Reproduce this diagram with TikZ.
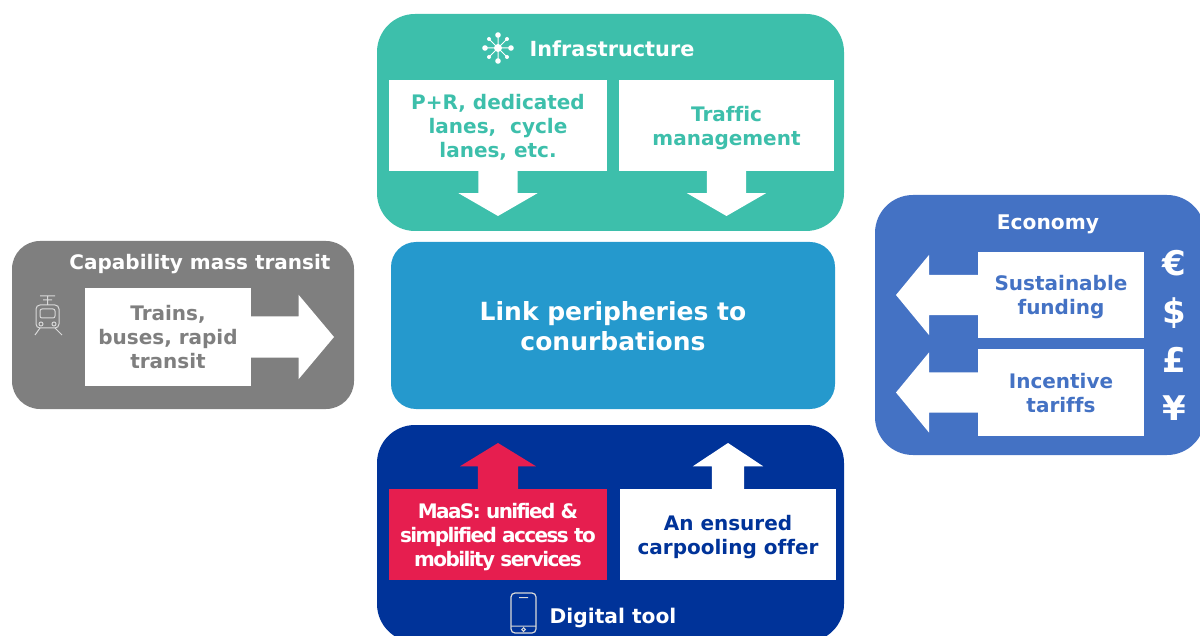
\documentclass[tikz,border=0pt]{standalone}
\usepackage{fontspec}
\setmainfont[Ligatures=NoCommon]{DejaVu Sans}
\newfontfamily\maasfont[LetterSpace=-8,Ligatures=NoCommon]{DejaVu Sans}
\usetikzlibrary{shapes.arrows,positioning}
\definecolor{infra}{HTML}{3DBFAB}
\definecolor{link}{HTML}{2599CD}
\definecolor{transit}{HTML}{7F7F7F}
\definecolor{economy}{HTML}{4472C4}
\definecolor{digital}{HTML}{003399}
\definecolor{maas}{HTML}{E61E4F}
\definecolor{iconline}{HTML}{D9D9D9}
\newcommand{\boxtop}{\rule{0pt}{23pt}}
\tikzset{x=1pt, y=-1pt, % one unit is one pixel of the reference
panel/.style={rounded corners=38pt, inner sep=0pt, outer sep=0pt}, % the large coloured blocks
textbox/.style={fill=white, inner sep=0pt, outer sep=0pt, align=center, font=\fontsize{20}{24}\selectfont\bfseries, execute at end node=\strut}, % the rectangles with text
heading/.style={text=white, inner sep=0pt, font=\fontsize{20.2}{24}\selectfont\bfseries}, % the panel titles
blockarrow/.style={single arrow, fill=white, inner sep=0pt, outer sep=0pt, single arrow head indent=0pt, anchor=tail}, % the wide arrows
downarrow/.style={blockarrow, shape border rotate=270, inner xsep=19.5pt, minimum height=45pt, minimum width=79pt, single arrow head extend=20pt, single arrow tip angle=120},
leftarrow/.style={blockarrow, shape border rotate=180, inner ysep=20pt, minimum height=82pt, minimum width=80pt, single arrow head extend=20pt, single arrow tip angle=101},
currency/.style={text=white, inner sep=0pt, font=\fontsize{34}{34}\selectfont\bfseries},
}

\begin{document}
\begin{tikzpicture}
\useasboundingbox (0,0) rectangle (1200,636);
\node[panel, fill=infra, minimum width=467pt, minimum height=217pt] (infrastructure) at (610.5,122.5) {};
\node[panel, fill=transit, rounded corners=28pt, minimum width=342pt, minimum height=168pt] (capability) at (183,325) {};
\node[panel, fill=link, rounded corners=25pt, minimum width=444pt, minimum height=167pt, text=white, align=center, font=\fontsize{25}{30}\selectfont\bfseries] (centre) at (613,325.5) {\rule{0pt}{21pt}Link peripheries to\\conurbations};
\node[panel, fill=economy, minimum width=330pt, minimum height=260pt] (economypanel) at (1040,325) {};
\node[panel, fill=digital, minimum width=467pt, minimum height=217pt] (digitalpanel) at (610.5,533.5) {};

\node[heading, font=\fontsize{20.8}{24}\selectfont\bfseries] (infratitle) at (612,49) {Infrastructure};
\node[heading, font=\fontsize{20}{24}\selectfont\bfseries] (captitle) at (200,264) {Capability mass transit};
\node[heading] (ecotitle) at (1048,224) {Economy};
\node[heading] (digitaltitle) at (613,618) {Digital tool};

\node[textbox, text=infra, minimum width=218pt, minimum height=91pt] (prbox) at (498,125.5) {\boxtop P+R, dedicated\\lanes,\ \ cycle\\lanes, etc.};
\node[textbox, text=infra, minimum width=215pt, minimum height=91pt, right=12pt of prbox] (trafficbox) {\boxtop Traffic\\management};
\node[textbox, text=transit, minimum width=166pt, minimum height=98pt] (trainsbox) at (168,337) {\boxtop Trains,\\buses, rapid\\transit};
\node[textbox, text=economy, minimum width=166pt, minimum height=86pt] (fundingbox) at (1061,295) {\boxtop Sustainable\\funding};
\node[textbox, text=economy, minimum width=166pt, minimum height=87pt, below=11pt of fundingbox] (tariffbox) {\boxtop Incentive\\tariffs};
\node[textbox, fill=maas, text=white, minimum width=218pt, minimum height=91pt, font=\fontsize{20}{24}\selectfont\maasfont\bfseries] (maasbox) at (498,534.5) {\boxtop MaaS: unified \&\\simplified access to\\mobility services};
\node[textbox, text=digital, minimum width=216pt, minimum height=91pt, right=13pt of maasbox] (carpoolbox) {\boxtop An ensured\\carpooling offer};

\node[downarrow] (prarrow) at (prbox.south) {};
\node[downarrow] (trafficarrow) at (trafficbox.south) {};
\node[blockarrow, inner ysep=20.5pt, minimum height=83pt, minimum width=84pt, single arrow head extend=21.5pt, single arrow tip angle=100] (trainsarrow) at (trainsbox.east) {};
\node[leftarrow] (fundingarrow) at (fundingbox.west) {};
\node[leftarrow] (tariffarrow) at (tariffbox.west) {};
\node[blockarrow, fill=maas, shape border rotate=90, inner xsep=20pt, minimum height=46pt, minimum width=76pt, single arrow head extend=18pt, single arrow tip angle=117] (maasarrow) at (maasbox.north) {};
\node[blockarrow, shape border rotate=90, inner xsep=16pt, minimum height=46pt, minimum width=70pt, single arrow head extend=19pt, single arrow tip angle=113] (carpoolarrow) at (carpoolbox.north) {};

\node[currency] (euro) at (1174,263) {€};
\node[currency] (dollar) at (1174,313) {\$};
\node[currency] (pound) at (1174,360) {£};
\node[currency] (yen) at (1174,408) {¥};

\draw[white, line width=1pt] (498,35) -- (498,61) (485,48) -- (511,48) (489,39) -- (507,57) (507,39) -- (489,57);
\fill[white] (498,48) circle (4) (498,35) circle (2.8) (498,61) circle (2.8) (485,48) circle (2.8) (511,48) circle (2.8)
(489,39) circle (2) (507,39) circle (2) (489,57) circle (2) (507,57) circle (2);

\draw[iconline, line width=1pt, rounded corners=4pt] (36,305) rectangle (59,328);
\draw[iconline, line width=1pt, rounded corners=2pt] (40,309) rectangle (55,318);
\draw[iconline, line width=1pt] (41,324) circle (2) (54,324) circle (2)
(40,296) -- (55,296) (43,300) -- (52,300) (47.5,296) -- (47.5,305)
(40,328) -- (35,335) (55,328) -- (62,335);

\draw[iconline, line width=1.2pt, rounded corners=4pt] (511,593) rectangle (536,633);
\draw[iconline, line width=1pt] (511,626) -- (536,626) (519,597.5) -- (528,597.5) (523.5,629.5) circle (1.8);
\end{tikzpicture}
\end{document}
